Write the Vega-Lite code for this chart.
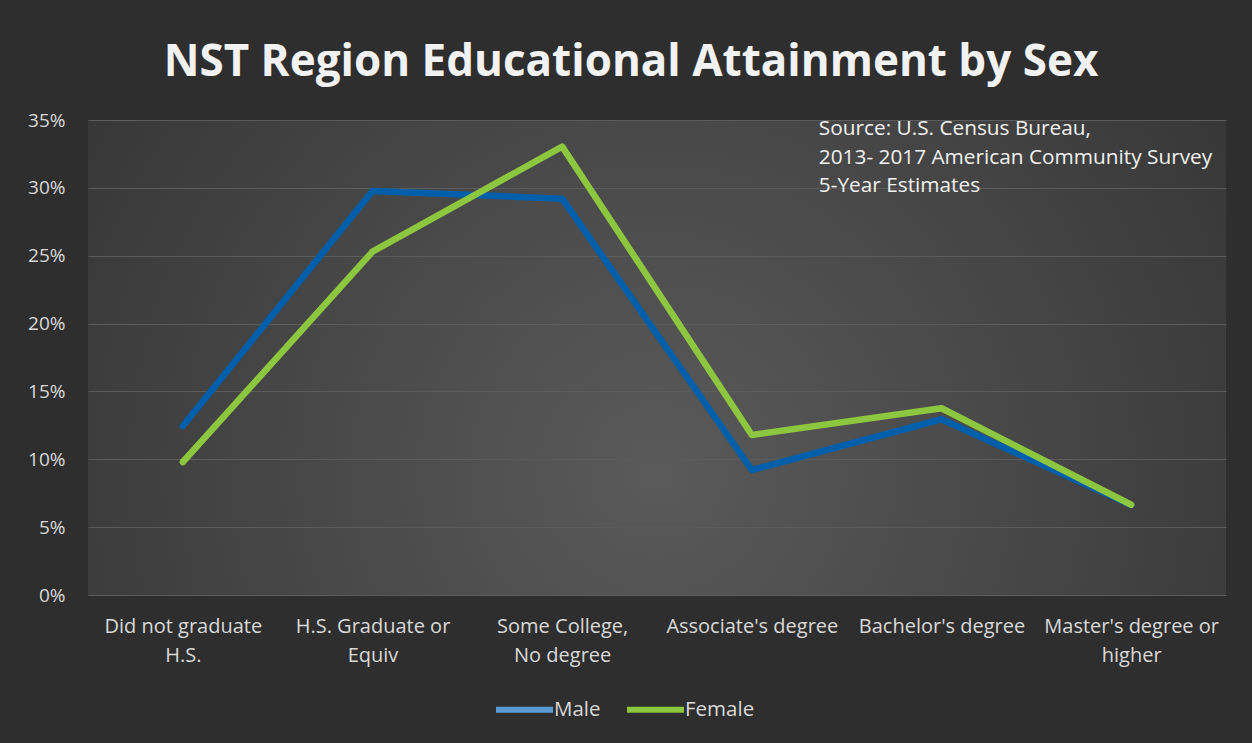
{
  "$schema": "https://vega.github.io/schema/vega-lite/v6.json",
  "autosize": "none",
  "width": 1138,
  "height": 475,
  "padding": {"left": 88, "top": 120, "right": 26, "bottom": 148},
  "background": "#2e2e2e",
  "title": {
    "text": "NST Region Educational Attainment by Sex",
    "font": "Open Sans",
    "fontSize": 44,
    "fontWeight": "bold",
    "color": "#f2f2f2",
    "anchor": "middle",
    "dx": -26,
    "baseline": "alphabetic",
    "offset": -9
  },
  "config": {
    "view": {
      "stroke": null,
      "fill": {
        "gradient": "radial",
        "x1": 0.5, "y1": 0.6, "x2": 0.5, "y2": 0.6,
        "r1": 0, "r2": 0.75,
        "stops": [
          {"offset": 0, "color": "#5a5a5a"},
          {"offset": 1, "color": "#2e2e2e"}
        ]
      }
    },
    "font": "Open Sans"
  },
  "data": {
    "values": [
      {"level": "Did not graduate H.S.", "sex": "Male", "pct": 0.1245},
      {"level": "H.S. Graduate or Equiv", "sex": "Male", "pct": 0.2977},
      {"level": "Some College, No degree", "sex": "Male", "pct": 0.2920},
      {"level": "Associate's degree", "sex": "Male", "pct": 0.0921},
      {"level": "Bachelor's degree", "sex": "Male", "pct": 0.1295},
      {"level": "Master's degree or higher", "sex": "Male", "pct": 0.0663},
      {"level": "Did not graduate H.S.", "sex": "Female", "pct": 0.0980},
      {"level": "H.S. Graduate or Equiv", "sex": "Female", "pct": 0.2530},
      {"level": "Some College, No degree", "sex": "Female", "pct": 0.3304},
      {"level": "Associate's degree", "sex": "Female", "pct": 0.1179},
      {"level": "Bachelor's degree", "sex": "Female", "pct": 0.1376},
      {"level": "Master's degree or higher", "sex": "Female", "pct": 0.0665}
    ]
  },
  "encoding": {
    "x": {
      "field": "level",
      "type": "nominal",
      "sort": null,
      "scale": {"type": "point", "padding": 0.5},
      "axis": {
        "title": null,
        "domain": false,
        "ticks": false,
        "grid": false,
        "labelAngle": 0,
        "labelFont": "Open Sans",
        "labelFontSize": 20,
        "labelColor": "#d9d9d9",
        "labelPadding": 31,
        "labelLineHeight": 29,
        "labelBaseline": "middle",
        "labelExpr": "datum.value == 'Did not graduate H.S.' ? ['Did not graduate', 'H.S.'] : datum.value == 'H.S. Graduate or Equiv' ? ['H.S. Graduate or', 'Equiv'] : datum.value == 'Some College, No degree' ? ['Some College,', 'No degree'] : datum.value == \"Master's degree or higher\" ? [\"Master's degree or\", 'higher'] : datum.value"
      }
    }
  },
  "layer": [
    {
      "mark": {"type": "line", "strokeWidth": 4, "strokeCap": "round", "strokeJoin": "round"},
      "encoding": {
        "y": {
          "field": "pct",
          "type": "quantitative",
          "scale": {"domain": [0, 0.35], "nice": false},
          "axis": {
            "title": null,
            "format": ".0%",
            "values": [0, 0.05, 0.1, 0.15, 0.2, 0.25, 0.3, 0.35],
            "domain": false,
            "ticks": false,
            "gridColor": "#5c5c5c",
            "gridWidth": 1.2,
            "labelFont": "Open Sans",
            "labelFontSize": 19,
            "labelColor": "#d9d9d9",
            "labelPadding": 23
          }
        },
        "color": {
          "field": "sex",
          "type": "nominal",
          "scale": {"domain": ["Male", "Female"], "range": ["#5b9bd5", "#8dc63f"]},
          "legend": {
            "title": null,
            "orient": "none",
            "legendX": 405,
            "legendY": 558,
            "direction": "horizontal",
            "symbolType": "stroke",
            "symbolSize": 3249,
            "symbolStrokeWidth": 6,
            "labelFont": "Open Sans",
            "labelFontSize": 20.5,
            "labelColor": "#d9d9d9",
            "labelOffset": -2,
            "columnPadding": 14
          }
        }
      }
    },
    {
      "mark": {"type": "line", "strokeWidth": 6.5, "strokeCap": "round", "strokeJoin": "round"},
      "encoding": {
        "y": {"field": "pct", "type": "quantitative"},
        "color": {
          "field": "sex",
          "type": "nominal",
          "scale": {"domain": ["Male", "Female"], "range": ["#005faa", "#8dc63f"]},
          "legend": null
        }
      }
    },
    {
      "data": {"values": [{"note": "source"}]},
      "mark": {
        "type": "text",
        "text": ["Source: U.S. Census Bureau,", "2013- 2017 American Community Survey", "5-Year Estimates"],
        "align": "left",
        "baseline": "top",
        "font": "Open Sans",
        "fontSize": 20.8,
        "lineHeight": 28.5,
        "color": "#f2f2f2",
        "dx": 67,
        "dy": -1
      },
      "encoding": {
        "x": {"datum": "Associate's degree"},
        "y": {"datum": 0.35, "type": "quantitative"}
      }
    }
  ],
  "resolve": {"scale": {"color": "independent"}, "legend": {"color": "independent"}}
}
